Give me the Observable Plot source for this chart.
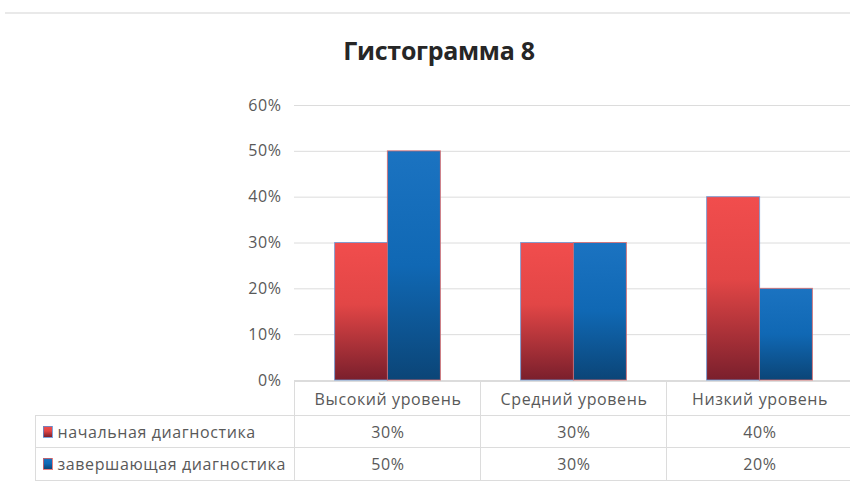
<!DOCTYPE html>
<html><head><meta charset="utf-8">
<script src="https://cdn.jsdelivr.net/npm/d3@7"></script>
<script src="https://cdn.jsdelivr.net/npm/@observablehq/plot@0.6"></script>
<style>
body{margin:0;background:#fff;}
#wrap{position:relative;width:850px;height:500px;overflow:hidden;font-family:"Open Sans",sans-serif;background:#fff;}
#topline{position:absolute;top:12px;left:5px;width:845px;height:2px;background:#e9e9e9;}
#title{height:90px;box-sizing:border-box;padding-top:38px;padding-left:28px;text-align:center;font-size:25px;font-weight:700;color:#262626;line-height:1;letter-spacing:-0.3px;}
#chart svg{display:block;overflow:visible;}
#chart svg text{letter-spacing:0.6px;}
</style></head><body>
<div id="wrap"><div id="topline"></div><div id="title">Гистограмма 8</div><div id="chart"></div></div>
<script>
const categories = ["Высокий уровень", "Средний уровень", "Низкий уровень"];
const seriesNames = ["начальная диагностика", "завершающая диагностика"];
const initialValues = [0.30, 0.30, 0.40];
const finalValues = [0.50, 0.30, 0.20];
const yTicks = [0, 0.1, 0.2, 0.3, 0.4, 0.5, 0.6];

const initialRows = categories.map((c, i) => ({category: c, series: seriesNames[0], value: initialValues[i]}));
const finalRows = categories.map((c, i) => ({category: c, series: seriesNames[1], value: finalValues[i]}));
const pct = d3.format(".0%");
const textColor = "#595959";
const gridColor = "#dcdcdc";

// table grid + legend swatches drawn with the plot's own x/y scales
function tableGrid(index, scales, values, dims) {
  const x = scales.x, y0 = scales.y(0);
  const step = x.step(), bw = x.bandwidth();
  const lefts = categories.map(c => x(c) + bw / 2 - step / 2);
  const right = lefts[lefts.length - 1] + step;
  const tableLeft = dims.marginLeft - 259;
  const top = y0 + 1, r1 = y0 + 35, r2 = y0 + 67, bottom = y0 + 100;
  const g = d3.create("svg:g").attr("stroke", gridColor).attr("stroke-width", 1).attr("shape-rendering", "crispEdges");
  g.append("line").attr("x1", lefts[0]).attr("x2", right).attr("y1", top).attr("y2", top);
  for (const yy of [r1, r2, bottom]) g.append("line").attr("x1", tableLeft).attr("x2", right).attr("y1", yy).attr("y2", yy);
  for (const xx of lefts) g.append("line").attr("x1", xx).attr("x2", xx).attr("y1", top).attr("y2", bottom);
  g.append("line").attr("x1", tableLeft).attr("x2", tableLeft).attr("y1", r1).attr("y2", bottom);
  const sw = [["url(#gradRed)", "#5b8fd6", r1], ["url(#gradBlue)", "#e06060", r2]];
  for (const [fill, stroke, yy] of sw) {
    g.append("rect").attr("x", tableLeft + 8).attr("y", yy + 11).attr("width", 9).attr("height", 11)
      .attr("fill", fill).attr("stroke", stroke).attr("stroke-width", 0.8);
  }
  return g.node();
}

const plot = Plot.plot({
  width: 850,
  height: 410,
  marginTop: 15,
  marginBottom: 120,
  marginLeft: 294,
  marginRight: -3.5,
  style: {fontFamily: "'Open Sans', sans-serif", background: "transparent"},
  x: {domain: categories, paddingInner: 0.716, paddingOuter: 0.358, label: null},
  y: {domain: [0, 0.6], label: null},
  marks: [
    Plot.gridY(yTicks, {stroke: gridColor, strokeOpacity: 1}),
    Plot.axisY({ticks: yTicks, tickFormat: pct, tickSize: 0, tickPadding: 13, fontSize: 16, fill: textColor, label: null}),
    Plot.axisX({tickSize: 0, tickPadding: 13, fontSize: 16, fill: textColor, label: null}),
    Plot.barY(initialRows, {x: "category", y: "value", fill: "url(#gradRed)", stroke: "#6a9ad8", strokeWidth: 1, strokeOpacity: 0.8, dx: -26.4}),
    Plot.barY(finalRows, {x: "category", y: "value", fill: "url(#gradBlue)", stroke: "#e06a6a", strokeWidth: 1, strokeOpacity: 0.8, dx: 26.4}),
    tableGrid,
    Plot.text(initialRows, {x: "category", text: d => pct(d.value), frameAnchor: "bottom", dy: 52, lineAnchor: "middle", fontSize: 16, fill: textColor}),
    Plot.text(finalRows, {x: "category", text: d => pct(d.value), frameAnchor: "bottom", dy: 84, lineAnchor: "middle", fontSize: 16, fill: textColor}),
    Plot.text([seriesNames[0]], {text: d => d, frameAnchor: "bottom-left", textAnchor: "start", dx: -237, dy: 52, lineAnchor: "middle", fontSize: 16, fill: textColor}),
    Plot.text([seriesNames[1]], {text: d => d, frameAnchor: "bottom-left", textAnchor: "start", dx: -237, dy: 84, lineAnchor: "middle", fontSize: 16, fill: textColor})
  ]
});

const defs = d3.select(plot).insert("defs", ":first-child");
const gr = defs.append("linearGradient").attr("id", "gradRed").attr("x1", 0).attr("y1", 0).attr("x2", 0).attr("y2", 1);
gr.append("stop").attr("offset", "0%").attr("stop-color", "#f14d4d");
gr.append("stop").attr("offset", "45%").attr("stop-color", "#e24646");
gr.append("stop").attr("offset", "100%").attr("stop-color", "#7a1f2c");
const gb = defs.append("linearGradient").attr("id", "gradBlue").attr("x1", 0).attr("y1", 0).attr("x2", 0).attr("y2", 1);
gb.append("stop").attr("offset", "0%").attr("stop-color", "#1b73c1");
gb.append("stop").attr("offset", "50%").attr("stop-color", "#1068b4");
gb.append("stop").attr("offset", "100%").attr("stop-color", "#0b4577");

document.getElementById("chart").appendChild(plot);
</script>
</body></html>
